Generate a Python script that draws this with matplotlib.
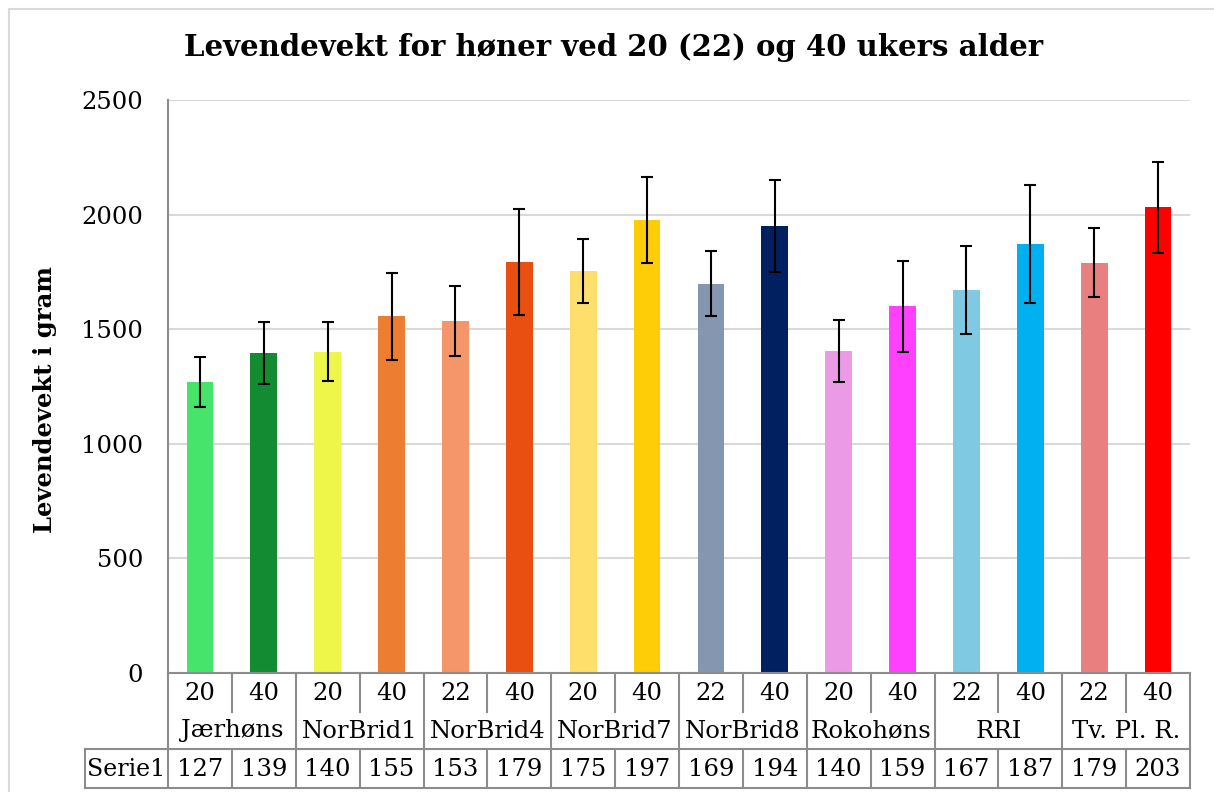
import matplotlib
matplotlib.use("Agg")
import matplotlib.pyplot as plt
from matplotlib.lines import Line2D
from matplotlib.patches import Rectangle
import matplotlib.transforms as mtransforms
import numpy as np

groups = ["Jærhøns", "NorBrid1", "NorBrid4", "NorBrid7", "NorBrid8", "Rokohøns", "RRI", "Tv. Pl. R."]
ages = ["20", "40", "20", "40", "22", "40", "20", "40", "22", "40", "20", "40", "22", "40", "22", "40"]
weights = [1269, 1397, 1402, 1556, 1534, 1792, 1753, 1978, 1699, 1952, 1403, 1600, 1673, 1871, 1791, 2031]
errors = [110, 136, 128, 190, 153, 232, 140, 187, 143, 201, 135, 198, 192, 257, 150, 199]
serie1 = ["127", "139", "140", "155", "153", "179", "175", "197", "169", "194", "140", "159", "167", "187", "179", "203"]
colors = ["#46E46A", "#138B31", "#EEF64A", "#ED7D31", "#F4956A", "#E84F10", "#FFDF6B", "#FFCC08",
          "#8496B0", "#002060", "#EB9BE5", "#FF40FF", "#80C9E3", "#00B0F0", "#E88080", "#FF0000"]

W, H = 1214, 792
plt.rcParams['font.family'] = ['DejaVu Serif']
fig = plt.figure(figsize=(W / 100, H / 100), dpi=100)

def fx(px):
    return px / W

def fy(py):
    return 1 - py / H

ax = fig.add_axes([fx(168), fy(673), fx(1190) - fx(168), fy(100) - fy(673)])
x = np.arange(len(weights))
ax.bar(x, weights, width=0.42, color=colors, zorder=2)
ax.errorbar(x, weights, yerr=errors, fmt='none', ecolor='black', elinewidth=1.5,
            capsize=4.3, capthick=1.5, zorder=3)
ax.set_xlim(-0.5, len(weights) - 0.5)
ax.set_ylim(0, 2500)
ax.set_yticks([0, 500, 1000, 1500, 2000, 2500])
ax.set_yticklabels(["0", "500", "1000", "1500", "2000", "2500"], fontsize=17.5)
ax.tick_params(axis='y', length=0, pad=18)
ax.set_xticks([])
ax.grid(axis='y', color='#d9d9d9', linewidth=1.5, zorder=0)
for s in ['top', 'right']:
    ax.spines[s].set_visible(False)
ax.spines['left'].set_color('#8c8c8c')
ax.spines['left'].set_linewidth(1.5)
ax.spines['bottom'].set_color('#8c8c8c')
ax.spines['bottom'].set_linewidth(1.5)

fig.text(fx(45), fy(400), "Levendevekt i gram", rotation=90, ha='center', va='center',
         fontsize=17.5, fontweight='bold')
fig.text(fx(614), fy(48), "Levendevekt for høner ved 20 (22) og 40 ukers alder",
         ha='center', va='center', fontsize=21, fontweight='bold')

# table
tr = mtransforms.blended_transform_factory(ax.transData, fig.transFigure)
lc = '#8c8c8c'
lw = 1.5
def vline(xd, y0, y1):
    fig.add_artist(Line2D([xd, xd], [fy(y0), fy(y1)], transform=tr, color=lc, lw=lw, clip_on=False))

n = len(weights)
for i in range(n + 1):
    xb = i - 0.5
    if i % 2 == 0:
        vline(xb, 673, 788)
    else:
        vline(xb, 673, 712)
        vline(xb, 749, 788)
fig.add_artist(Line2D([fx(85), fx(1190)], [fy(749), fy(749)], transform=fig.transFigure, color=lc, lw=lw))
fig.add_artist(Line2D([fx(85), fx(1190)], [fy(788), fy(788)], transform=fig.transFigure, color=lc, lw=lw))
fig.add_artist(Line2D([fx(85), fx(85)], [fy(749), fy(788)], transform=fig.transFigure, color=lc, lw=lw))

tfs = 17.5
for i in range(n):
    fig.text(x[i], fy(694), ages[i], transform=tr, ha='center', va='center', fontsize=tfs)
    fig.text(x[i], fy(769), serie1[i], transform=tr, ha='center', va='center', fontsize=tfs)
for g, name in enumerate(groups):
    fig.text(2 * g + 0.5, fy(731), name, transform=tr, ha='center', va='center', fontsize=tfs)
fig.text(fx(126.5), fy(769), "Serie1", ha='center', va='center', fontsize=17)

# chart area border
fig.add_artist(Rectangle((fx(9), fy(820)), 1.2, fy(9) - fy(820), transform=fig.transFigure,
                         fill=False, edgecolor='#d9d9d9', lw=1.5))

fig.savefig("out.png", dpi=100)
